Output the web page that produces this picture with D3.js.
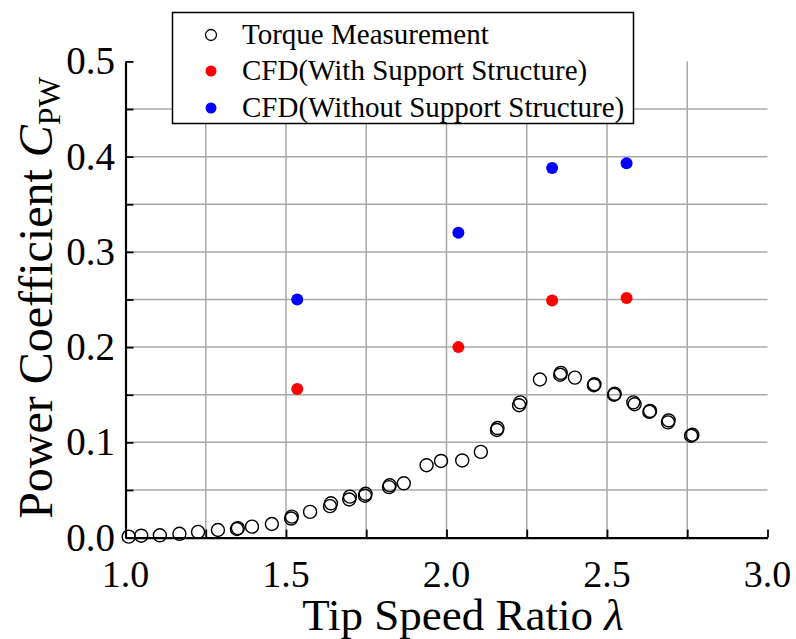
<!DOCTYPE html>
<html>
<head>
<meta charset="utf-8">
<script src="https://cdn.jsdelivr.net/npm/d3@7"></script>
<style>
  body { margin: 0; background: #fff; }
  svg { display: block; font-family: "Liberation Serif", "Times New Roman", serif; }
</style>
</head>
<body>
<svg id="chart" width="796" height="639"></svg>
<script>
// torque measurement (tip speed ratio, Cp)
const torqueTsr = [1.01, 1.049, 1.107, 1.168, 1.226, 1.288, 1.347, 1.350, 1.394, 1.456,
  1.516, 1.518, 1.575, 1.637, 1.640, 1.697, 1.699, 1.746, 1.748, 1.821, 1.823, 1.867,
  1.938, 1.983, 2.049, 2.107, 2.157, 2.159, 2.226, 2.230, 2.291, 2.354, 2.356, 2.400,
  2.459, 2.461, 2.522, 2.524, 2.582, 2.586, 2.632, 2.634, 2.690, 2.692, 2.762, 2.766];
const torqueCp = [0.001, 0.002, 0.0024, 0.004, 0.006, 0.008, 0.009, 0.010, 0.0115, 0.0143,
  0.020, 0.022, 0.027, 0.033, 0.036, 0.040, 0.043, 0.044, 0.046, 0.053, 0.055, 0.057,
  0.076, 0.0805, 0.081, 0.090, 0.113, 0.115, 0.139, 0.142, 0.166, 0.171, 0.173, 0.168,
  0.160, 0.161, 0.150, 0.151, 0.142, 0.140, 0.132, 0.133, 0.121, 0.123, 0.107, 0.108];

const cfdTsr = [1.535, 2.037, 2.329, 2.561];
const cfdWithCp = [0.156, 0.200, 0.249, 0.2515];
const cfdWithoutCp = [0.250, 0.320, 0.388, 0.393];

const xTickLabels = ["1.0", "1.5", "2.0", "2.5", "3.0"];
const yTickLabels = ["0.0", "0.1", "0.2", "0.3", "0.4", "0.5"];
const legendLabels = ["Torque Measurement", "CFD(With Support Structure)", "CFD(Without Support Structure)"];

const svg = d3.select("#chart");
const plotLeft = 125.5, plotRight = 767.5, plotTop = 61.4, plotBottom = 537.6;

const x = d3.scaleLinear().domain([1, 3]).range([plotLeft, plotRight]);
const y = d3.scaleLinear().domain([0, 0.5]).range([plotBottom, plotTop]);

const gridColor = "#a8a8a8";

// grid
svg.append("g")
  .selectAll("line")
  .data(d3.range(1, 8).map((i) => 1 + i * 0.25))
  .join("line")
  .attr("x1", (d) => x(d)).attr("x2", (d) => x(d))
  .attr("y1", plotTop).attr("y2", plotBottom)
  .attr("stroke", gridColor).attr("stroke-width", 1.5);

svg.append("g")
  .selectAll("line")
  .data(d3.range(1, 10).map((i) => i * 0.05))
  .join("line")
  .attr("x1", plotLeft).attr("x2", plotRight)
  .attr("y1", (d) => y(d)).attr("y2", (d) => y(d))
  .attr("stroke", gridColor).attr("stroke-width", 1.5);

// axes (ticks inward)
const xAxis = svg.append("g")
  .attr("transform", `translate(0, ${plotBottom})`)
  .call(d3.axisBottom(x)
    .tickValues(d3.range(0, 9).map((i) => 1 + i * 0.25))
    .tickSizeInner(-8).tickSizeOuter(0)
    .tickFormat(""));
xAxis.select(".domain").attr("stroke-width", 2.2);
xAxis.selectAll(".tick line").attr("stroke-width", 1.8);

const yAxis = svg.append("g")
  .attr("transform", `translate(${plotLeft}, 0)`)
  .call(d3.axisLeft(y)
    .tickValues(d3.range(0, 11).map((i) => i * 0.05))
    .tickSizeInner(-8).tickSizeOuter(0)
    .tickFormat(""));
yAxis.select(".domain").attr("stroke-width", 2.2);
yAxis.selectAll(".tick line").attr("stroke-width", 1.8);

// tick labels
svg.append("g")
  .selectAll("text")
  .data(xTickLabels)
  .join("text")
  .attr("x", (d) => x(+d))
  .attr("y", 587)
  .attr("text-anchor", "middle")
  .attr("font-size", 38)
  .text((d) => d);

svg.append("g")
  .selectAll("text")
  .data(yTickLabels)
  .join("text")
  .attr("x", 115)
  .attr("y", (d) => y(+d) + 13)
  .attr("text-anchor", "end")
  .attr("font-size", 39)
  .text((d) => d);

// axis titles
svg.append("text")
  .attr("x", 463)
  .attr("y", 630)
  .attr("text-anchor", "middle")
  .attr("font-size", 45)
  .html('Tip Speed Ratio <tspan font-style="italic">λ</tspan>');

svg.append("text")
  .attr("transform", "translate(52, 298) rotate(-90)")
  .attr("text-anchor", "middle")
  .attr("font-size", 48)
  .html('Power Coefficient <tspan font-style="italic">C</tspan><tspan font-size="32" dy="8">PW</tspan>');

// data
svg.append("g")
  .selectAll("circle")
  .data(torqueTsr)
  .join("circle")
  .attr("cx", (d) => x(d))
  .attr("cy", (d, i) => y(torqueCp[i]))
  .attr("r", 6.5)
  .attr("fill", "none")
  .attr("stroke", "#000")
  .attr("stroke-width", 1.4);

svg.append("g")
  .selectAll("circle")
  .data(cfdTsr)
  .join("circle")
  .attr("cx", (d) => x(d))
  .attr("cy", (d, i) => y(cfdWithCp[i]))
  .attr("r", 6)
  .attr("fill", "#ff0000");

svg.append("g")
  .selectAll("circle")
  .data(cfdTsr)
  .join("circle")
  .attr("cx", (d) => x(d))
  .attr("cy", (d, i) => y(cfdWithoutCp[i]))
  .attr("r", 6)
  .attr("fill", "#0000ff");

// legend
const legend = svg.append("g");
legend.append("rect")
  .attr("x", 172.5).attr("y", 12.5)
  .attr("width", 461).attr("height", 111)
  .attr("fill", "#fff").attr("stroke", "#000").attr("stroke-width", 1.5);

const legendY = [35, 71, 108];
legendLabels.forEach((label, i) => {
  const marker = legend.append("circle")
    .attr("cx", 211).attr("cy", legendY[i]).attr("r", 5.5);
  if (i === 0) marker.attr("fill", "#fff").attr("stroke", "#000").attr("stroke-width", 1.3);
  else marker.attr("fill", i === 1 ? "#ff0000" : "#0000ff");
  legend.append("text")
    .attr("x", 242).attr("y", legendY[i] + 9)
    .attr("font-size", 29)
    .text(label);
});
</script>
</body>
</html>
